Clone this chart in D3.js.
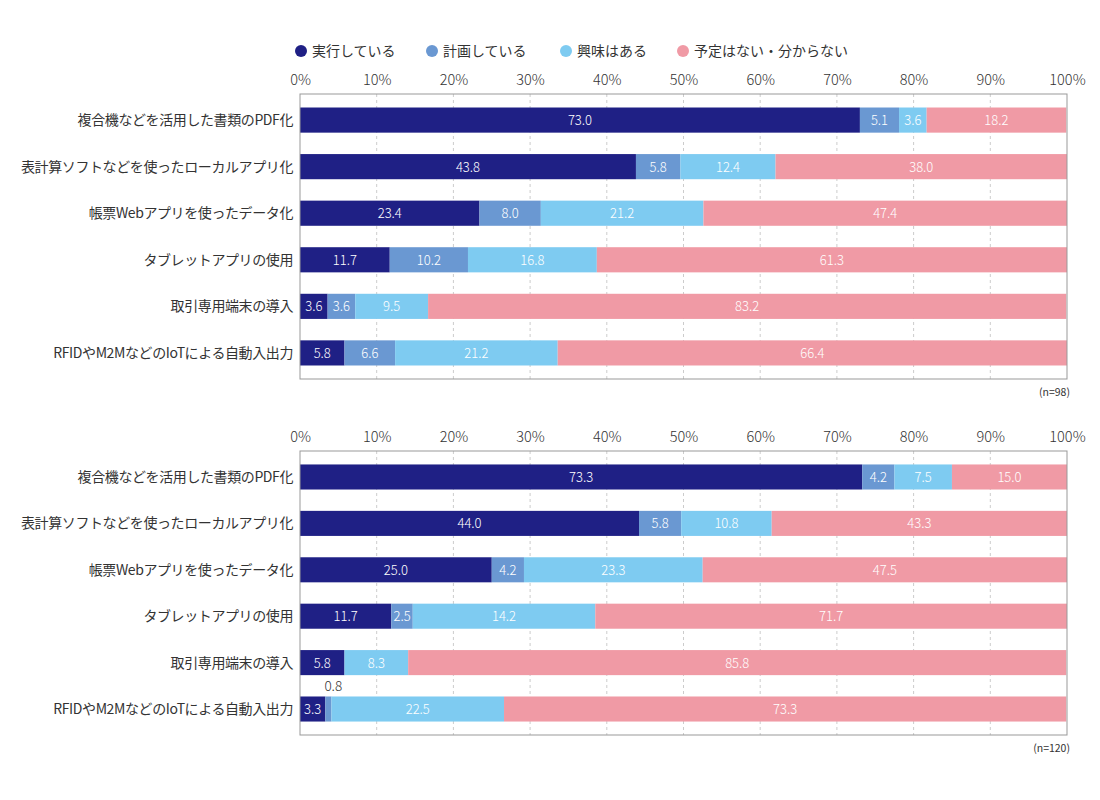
<!DOCTYPE html>
<html>
<head>
<meta charset="utf-8">
<script src="https://cdn.jsdelivr.net/npm/d3@7"></script>
<style>
body { margin: 0; background: #fff; }
text { font-family: "Noto Sans CJK JP", "Noto Sans", sans-serif; }
</style>
</head>
<body>
<svg id="svg" width="1100" height="800"></svg>
<script>
var categories = [
    '複合機などを活用した書類のPDF化',
    '表計算ソフトなどを使ったローカルアプリ化',
    '帳票Webアプリを使ったデータ化',
    'タブレットアプリの使用',
    '取引専用端末の導入',
    'RFIDやM2MなどのIoTによる自動入出力'
];
var seriesNames = ['実行している', '計画している', '興味はある', '予定はない・分からない'];
var colors = ['#1f2085', '#6a98d2', '#7ecbf1', '#f09aa5'];
var tickLabels = [0, 10, 20, 30, 40, 50, 60, 70, 80, 90, 100];

// printed values (labels)
var topValues = [
    [73.0, 5.1, 3.6, 18.2],
    [43.8, 5.8, 12.4, 38.0],
    [23.4, 8.0, 21.2, 47.4],
    [11.7, 10.2, 16.8, 61.3],
    [3.6, 3.6, 9.5, 83.2],
    [5.8, 6.6, 21.2, 66.4]
];
var bottomValues = [
    [73.3, 4.2, 7.5, 15.0],
    [44.0, 5.8, 10.8, 43.3],
    [25.0, 4.2, 23.3, 47.5],
    [11.7, 2.5, 14.2, 71.7],
    [5.8, 0, 8.3, 85.8],
    [3.3, 0.8, 22.5, 73.3]
];
// bar lengths as drawn in the picture (two rows differ from their labels)
var bottomBarLengths = [
    [73.3, 4.2, 7.5, 15.0],
    [44.2, 5.5, 11.8, 38.5],
    [25.0, 4.2, 23.3, 47.5],
    [11.9, 2.8, 23.8, 61.5],
    [5.8, 0, 8.3, 85.8],
    [3.3, 0.8, 22.5, 73.3]
];
var nLabels = ['(n=98)', '(n=120)'];

var svg = d3.select('#svg');
var left = 300, right = 1067;

// legend
var legendX = [301, 432, 566, 683];
var legend = svg.append('g');
seriesNames.forEach(function(name, i) {
    legend.append('circle')
        .attr('cx', legendX[i]).attr('cy', 51).attr('r', 6)
        .attr('fill', colors[i]);
    legend.append('text')
        .attr('x', legendX[i] + 11).attr('y', 56)
        .attr('font-size', 14).attr('fill', '#333')
        .text(name);
});

function drawChart(values, lengths, top, bottom, nLabel) {
    var x = d3.scaleLinear().domain([0, 100]).range([left, right]);
    var y = d3.scaleBand().domain(categories).range([top, bottom]).paddingInner(0.46).paddingOuter(0.29);
    var g = svg.append('g');

    // grid
    g.selectAll('line.grid')
        .data(tickLabels.slice(1, -1))
        .enter().append('line')
        .attr('x1', function(d) { return x(d); })
        .attr('x2', function(d) { return x(d); })
        .attr('y1', top).attr('y2', bottom)
        .attr('stroke', '#ccc')
        .attr('stroke-dasharray', '3,3');

    // tick labels
    g.append('g')
        .attr('transform', 'translate(0,' + (top - 6) + ')')
        .call(d3.axisTop(x).tickValues(tickLabels).tickSize(0).tickFormat(function(d) { return d + '%'; }))
        .call(function(a) {
            a.select('.domain').remove();
            a.selectAll('text')
                .attr('font-size', 14.5)
                .attr('font-weight', 300)
                .attr('fill', '#333')
                .style('font-family', '"Noto Sans CJK JP", sans-serif');
        });

    // category labels
    g.selectAll('text.cat')
        .data(categories)
        .enter().append('text')
        .attr('class', 'cat')
        .attr('x', left - 7)
        .attr('y', function(d) { return y(d) + y.bandwidth() / 2 + 5; })
        .attr('text-anchor', 'end')
        .attr('font-size', 14)
        .attr('letter-spacing', -0.4)
        .attr('fill', '#333')
        .text(function(d) { return d; });

    // bars
    values.forEach(function(row, r) {
        var cum = 0;
        row.forEach(function(v, s) {
            var len = lengths[r][s];
            var x0 = cum, x1 = Math.min(100, cum + len);
            cum += len;
            if (v <= 0) return;
            var yy = y(categories[r]);
            g.append('rect')
                .attr('x', x(x0)).attr('width', x(x1) - x(x0))
                .attr('y', yy).attr('height', y.bandwidth())
                .attr('fill', colors[s]);
            var small = v < 2;
            g.append('text')
                .attr('x', small ? x(x0) + 8 : (x(x0) + x(x1)) / 2)
                .attr('y', small ? yy - 5 : yy + y.bandwidth() / 2 + 5)
                .attr('text-anchor', 'middle')
                .attr('font-size', small ? 13.5 : 13)
                .attr('font-weight', 300)
                .attr('fill', small ? '#333' : '#fff')
                .text(v.toFixed(1));
        });
    });

    // frame
    g.append('rect')
        .attr('x', left).attr('y', top)
        .attr('width', right - left).attr('height', bottom - top)
        .attr('fill', 'none').attr('stroke', '#999');

    g.append('text')
        .attr('x', right + 3).attr('y', bottom + 17)
        .attr('text-anchor', 'end')
        .attr('font-size', 10.5).attr('fill', '#333')
        .text(nLabel);
}

drawChart(topValues, topValues, 94, 379, nLabels[0]);
drawChart(bottomValues, bottomBarLengths, 451, 735, nLabels[1]);
</script>
</body>
</html>
